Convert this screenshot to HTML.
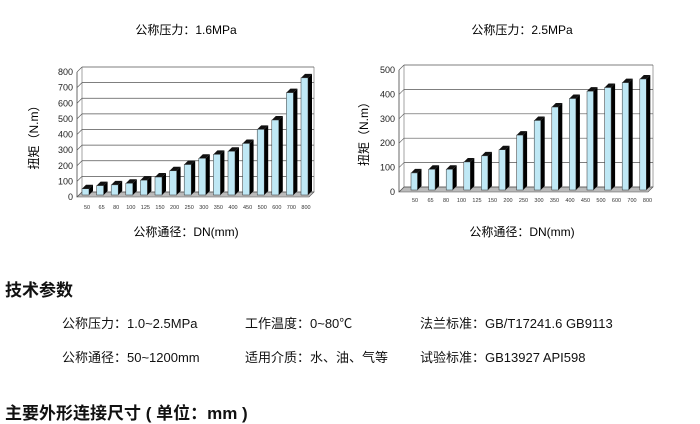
<!DOCTYPE html>
<html><head><meta charset="utf-8"><style>
body{margin:0;background:#fff;width:700px;height:422px;overflow:hidden;position:relative;font-family:"Liberation Sans","Noto Sans CJK SC",sans-serif;color:#111}
.t{position:absolute;white-space:nowrap}
</style></head><body>
<svg id="s" width="700" height="270" style="position:absolute;left:0;top:0" font-family="Liberation Sans, Noto Sans CJK SC, sans-serif"></svg>
<div class="t" style="left:5px;top:276px;font-size:17px;font-weight:bold">技术参数</div>
<div class="t" style="left:62px;top:313px;font-size:13px">公称压力：1.0~2.5MPa</div>
<div class="t" style="left:245px;top:313px;font-size:13px">工作温度：0~80℃</div>
<div class="t" style="left:420px;top:313px;font-size:13px">法兰标准：GB/T17241.6 GB9113</div>
<div class="t" style="left:62px;top:347px;font-size:13px">公称通径：50~1200mm</div>
<div class="t" style="left:245px;top:347px;font-size:13px">适用介质：水、油、气等</div>
<div class="t" style="left:420px;top:347px;font-size:13px">试验标准：GB13927 API598</div>
<div class="t" style="left:5px;top:399px;font-size:17px;font-weight:bold">主要外形连接尺寸 ( 单位：mm )</div>
<script>
var s=document.getElementById('s'),h='';
function chart(o){
 var L=o.L,R=o.R,y0=o.y0,y1=o.y1,max=o.max,st=o.step,d=5;
 var sc=(y0-y1)/max;
 h+='<text x="'+o.tx+'" y="34" font-size="12" text-anchor="middle">'+o.title+'</text>';
 h+='<text x="'+o.tx+'" y="236" font-size="12" text-anchor="middle">公称通径：DN(mm)</text>';
 h+='<text transform="translate('+o.yx+','+((y0+y1)/2)+') rotate(-90)" font-size="12" text-anchor="middle">扭矩（N.m）</text>';
 h+='<polygon points="'+L+','+y0+' '+(L+d)+','+(y0-d)+' '+(R+d)+','+(y0-d)+' '+R+','+y0+'" fill="#bbb" stroke="#555" stroke-width="0.6"/>';
 h+='<line x1="'+L+'" y1="'+y0+'" x2="'+L+'" y2="'+y1+'" stroke="#444" stroke-width="0.8"/>';
 h+='<line x1="'+(L+d)+'" y1="'+(y0-d)+'" x2="'+(L+d)+'" y2="'+(y1-d)+'" stroke="#666" stroke-width="0.6"/>';
 h+='<line x1="'+(R+d)+'" y1="'+(y0-d)+'" x2="'+(R+d)+'" y2="'+(y1-d)+'" stroke="#666" stroke-width="0.6"/>';
 for(var v=0;v<=max;v+=st){var y=y0-v*sc;
  h+='<line x1="'+(L+d)+'" y1="'+(y-d)+'" x2="'+(R+d)+'" y2="'+(y-d)+'" stroke="#555" stroke-width="0.7"/>';
  h+='<line x1="'+L+'" y1="'+y+'" x2="'+(L+d)+'" y2="'+(y-d)+'" stroke="#555" stroke-width="0.6"/>';
  h+='<text x="'+(L-4)+'" y="'+(y+3)+'" font-size="9" text-anchor="end" fill="#222">'+v+'</text>';}
 o.vals.forEach(function(v,i){var x=o.b0+i*o.bs,y=y0-2-v*sc,w=o.w,e=4;
  h+='<polygon points="'+(x+w)+','+(y0-2)+' '+(x+w+e)+','+(y0-2-e)+' '+(x+w+e)+','+(y-e)+' '+(x+w)+','+y+'" fill="#000"/>';
  h+='<polygon points="'+x+','+y+' '+(x+e)+','+(y-e)+' '+(x+w+e)+','+(y-e)+' '+(x+w)+','+y+'" fill="#111"/>';
  h+='<rect x="'+x+'" y="'+y+'" width="'+w+'" height="'+(y0-2-y)+'" fill="#bfe8f5" stroke="#333" stroke-width="0.5"/>';});
 o.labs.forEach(function(l,i){h+='<text x="'+(o.l0+i*o.ls)+'" y="'+o.ly+'" font-size="5.5" text-anchor="middle" fill="#333">'+l+'</text>';});
}
var labs=['50','65','80','100','125','150','200','250','300','350','400','450','500','600','700','800'];
chart({L:77,R:309,y0:197,y1:72,max:800,step:100,title:'公称压力：1.6MPa',tx:186,yx:38,w:7,
 vals:[40,60,65,75,95,115,155,195,235,260,280,330,420,480,655,750],b0:82,bs:14.6,labs:labs,l0:87,ls:14.6,ly:209});
chart({L:399,R:648,y0:192,y1:70,max:500,step:100,title:'公称压力：2.5MPa',tx:522,yx:368,w:6.5,
 vals:[70,85,85,115,140,165,225,285,340,375,405,420,440,455],b0:411,bs:17.6,labs:labs,l0:415,ls:15.5,ly:202});
s.innerHTML=h;
</script>
</body></html>
